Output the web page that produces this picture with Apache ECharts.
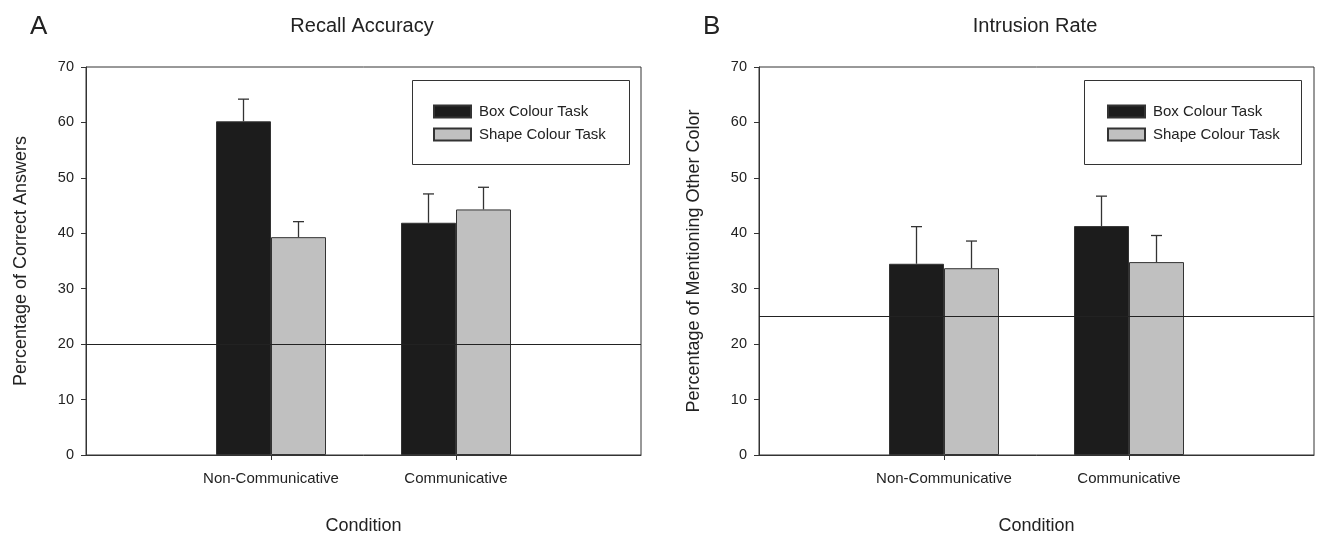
<!DOCTYPE html>
<html>
<head>
<meta charset="utf-8">
<script src="https://cdn.jsdelivr.net/npm/echarts@6/dist/echarts.min.js"></script>
<style>
html,body{margin:0;padding:0;background:#fff;}
#chart{width:1320px;height:540px;}
</style>
</head>
<body>
<div id="chart"></div>
<script>
// ---- data ----
const categories = ['', 'Non-Communicative', 'Communicative', ''];
const seriesNames = ['Box Colour Task', 'Shape Colour Task'];
const yTicks = [0, 10, 20, 30, 40, 50, 60, 70];

// Panel A: Recall Accuracy
const recallBox = [60.2, 41.9];
const recallBoxErr = [4.0, 5.2];
const recallShape = [39.3, 44.3];
const recallShapeErr = [2.8, 4.0];
const recallChance = 20;

// Panel B: Intrusion Rate
const intrusionBox = [34.5, 41.3];
const intrusionBoxErr = [6.7, 5.4];
const intrusionShape = [33.7, 34.8];
const intrusionShapeErr = [4.9, 4.8];
const intrusionChance = 25;

// ---- styling ----
const FONT = 'Liberation Sans, Arial, sans-serif';
const TXT = '#222';
const BOX_COLOR = '#1c1c1c';
const SHAPE_COLOR = '#c0c0c0';
const EDGE = '#333';
const BAR_W = 55;

const chart = echarts.init(document.getElementById('chart'));

function padData(vals) { return ['-'].concat(vals).concat(['-']); }

function errData(vals, errs) {
  return vals.map((v, i) => [i + 1, v, errs[i]]);
}

function errSeries(name, gridIdx, vals, errs, offset, chance) {
  const s = {
    type: 'custom',
    name: name,
    xAxisIndex: gridIdx,
    yAxisIndex: gridIdx,
    z: 5,
    silent: true,
    data: errData(vals, errs),
    renderItem: function (params, api) {
      const ci = api.value(0), v = api.value(1), e = api.value(2);
      const base = api.coord([ci, v]);
      const top = api.coord([ci, v + e]);
      const x = base[0] + offset;
      return {
        type: 'group',
        children: [
          { type: 'line', shape: { x1: x, y1: base[1], x2: x, y2: top[1] }, style: { stroke: EDGE, lineWidth: 1.3 } },
          { type: 'line', shape: { x1: x - 5.5, y1: top[1], x2: x + 5.5, y2: top[1] }, style: { stroke: EDGE, lineWidth: 1.3 } }
        ]
      };
    }
  };
  if (chance !== null) {
    s.markLine = {
      silent: true,
      symbol: 'none',
      label: { show: false },
      lineStyle: { color: '#222', width: 1.2, type: 'solid' },
      data: [{ yAxis: chance }]
    };
  }
  return s;
}

function barSeries(name, gridIdx, vals, color) {
  return {
    type: 'bar',
    name: name,
    xAxisIndex: gridIdx,
    yAxisIndex: gridIdx,
    barWidth: BAR_W,
    barGap: '0%',
    z: 2,
    itemStyle: { color: color, borderColor: EDGE, borderWidth: 1 },
    data: padData(vals)
  };
}

function xAxis(gridIdx) {
  return {
    type: 'category',
    gridIndex: gridIdx,
    data: categories,
    boundaryGap: false,
    name: 'Condition',
    nameLocation: 'middle',
    nameGap: 62,
    nameTextStyle: { fontFamily: FONT, fontSize: 18, color: TXT },
    axisLine: { show: true, lineStyle: { color: EDGE, width: 1 } },
    axisTick: { show: true, length: 5, lineStyle: { color: EDGE }, interval: function (i, v) { return v !== ''; } },
    axisLabel: { interval: 0, fontFamily: FONT, fontSize: 15, color: TXT, margin: 16 },
    splitLine: { show: false }
  };
}

function yAxis(gridIdx, name) {
  return {
    type: 'value',
    gridIndex: gridIdx,
    min: yTicks[0],
    max: yTicks[yTicks.length - 1],
    interval: 10,
    name: name,
    nameLocation: 'middle',
    nameGap: 56,
    nameTextStyle: { fontFamily: FONT, fontSize: 18, color: TXT },
    axisLine: { show: true, lineStyle: { color: EDGE, width: 1 } },
    axisTick: { show: true, length: 5, lineStyle: { color: EDGE } },
    axisLabel: { fontFamily: FONT, fontSize: 14.5, color: TXT, margin: 12 },
    splitLine: { show: false }
  };
}

function legend(left) {
  return {
    orient: 'vertical',
    left: left,
    top: 104,
    padding: 0,
    itemWidth: 37,
    itemHeight: 12,
    itemGap: 8,
    icon: 'rect',
    selectedMode: false,
    data: seriesNames,
    textStyle: { fontFamily: FONT, fontSize: 15, color: TXT, lineHeight: 14, padding: [0, 0, 0, 3] }
  };
}

const option = {
  backgroundColor: '#fff',
  animation: false,
  title: [
    { text: 'A', left: 25, top: 9, textStyle: { fontFamily: FONT, fontSize: 26, fontWeight: 'normal', color: TXT } },
    { text: 'Recall Accuracy', left: 357, top: 11, textAlign: 'center', textStyle: { fontFamily: FONT, fontSize: 20, fontWeight: 'normal', color: TXT } },
    { text: 'B', left: 698, top: 9, textStyle: { fontFamily: FONT, fontSize: 26, fontWeight: 'normal', color: TXT } },
    { text: 'Intrusion Rate', left: 1030, top: 11, textAlign: 'center', textStyle: { fontFamily: FONT, fontSize: 20, fontWeight: 'normal', color: TXT } }
  ],
  grid: [
    { left: 86, top: 67, width: 555, height: 389, show: true, borderColor: EDGE, borderWidth: 1, backgroundColor: 'transparent' },
    { left: 759, top: 67, width: 555, height: 389, show: true, borderColor: EDGE, borderWidth: 1, backgroundColor: 'transparent' }
  ],
  legend: [legend(433), legend(1107)],
  graphic: [
    { type: 'rect', silent: true, z: 10, shape: { x: 412.5, y: 80.5, width: 217, height: 84 }, style: { fill: 'none', stroke: EDGE, lineWidth: 1 } },
    { type: 'rect', silent: true, z: 10, shape: { x: 1084.5, y: 80.5, width: 217, height: 84 }, style: { fill: 'none', stroke: EDGE, lineWidth: 1 } }
  ],
  xAxis: [xAxis(0), xAxis(1)],
  yAxis: [yAxis(0, 'Percentage of Correct Answers'), yAxis(1, 'Percentage of Mentioning Other Color')],
  series: [
    barSeries(seriesNames[0], 0, recallBox, BOX_COLOR),
    barSeries(seriesNames[1], 0, recallShape, SHAPE_COLOR),
    errSeries('errA1', 0, recallBox, recallBoxErr, -BAR_W / 2, recallChance),
    errSeries('errA2', 0, recallShape, recallShapeErr, BAR_W / 2, null),
    barSeries(seriesNames[0], 1, intrusionBox, BOX_COLOR),
    barSeries(seriesNames[1], 1, intrusionShape, SHAPE_COLOR),
    errSeries('errB1', 1, intrusionBox, intrusionBoxErr, -BAR_W / 2, intrusionChance),
    errSeries('errB2', 1, intrusionShape, intrusionShapeErr, BAR_W / 2, null)
  ]
};

chart.setOption(option);
</script>
</body>
</html>
